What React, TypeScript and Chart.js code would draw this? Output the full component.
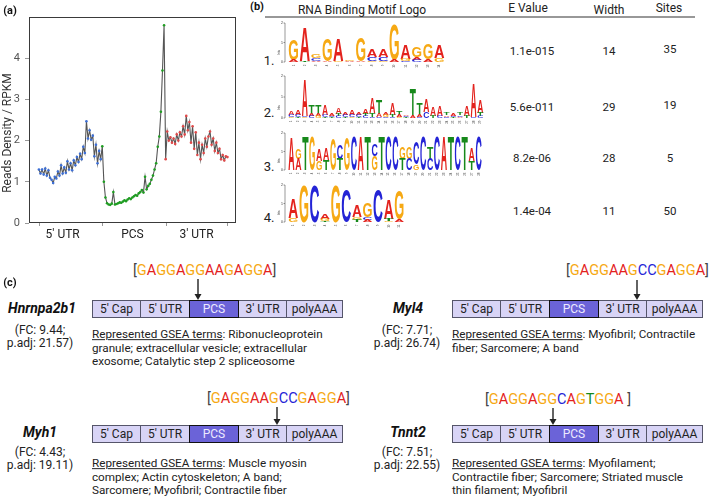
import React, { useEffect, useRef } from "react";
import { Chart, registerables } from "chart.js";
Chart.register(...registerables);

// ---------- Panel (a) data ----------
const blueVals = [
  1.3, 1.2, 1.3, 1.18, 1.32, 1.15, 1.28, 1.1, 1.05, 0.97,
  1.12, 1.08, 1.25, 1.15, 1.4, 1.2, 1.35, 1.22, 1.5, 1.3,
  1.45, 1.28, 1.52, 1.4, 1.6, 1.48, 1.68, 1.55, 1.85, 1.7,
  2.47, 2.05, 2.25, 2.02, 2.12, 1.62, 1.9, 1.45, 1.75, 1.55,
];
const greenVals = [
  1.86, 1.0, 0.62, 0.48, 0.45, 0.44, 0.47, 0.75, 0.45, 0.46,
  0.48, 0.5, 0.49, 0.52, 0.55, 0.53, 0.57, 0.6, 0.58, 0.62,
  0.65, 0.68, 0.66, 0.72, 0.75, 0.8, 0.74, 1.12, 0.82, 0.9,
  0.95, 1.05, 1.15, 1.3, 1.45, 1.85, 2.1, 2.7, 3.7, 4.8,
];
const redVals = [
  1.55, 2.22, 2.0, 2.08, 1.95, 2.05, 1.92, 2.15, 2.0, 2.2,
  2.1, 2.35, 2.15, 2.6, 2.25, 2.45, 1.95, 2.35, 1.8, 2.2,
  1.65, 1.95, 1.55, 1.9, 1.7, 2.05, 1.85, 2.1, 2.22, 1.9,
  2.05, 1.75, 1.95, 1.7, 1.8, 1.55, 1.65, 1.52, 1.62, 1.6,
];
const regionLabels = ["5' UTR", "PCS", "3' UTR"];
const regionLabelAt = [15, 59, 99.5];
const regionEdges = [0, 40, 80, 119];
const yTickValues = [0, 1, 2, 3, 4];

// ---------- Panel (b) data ----------
const motifNumbers = ["1.", "2.", "3.", "4."];
const motifEValues = ["1.1e-015", "5.6e-011", "8.2e-06", "1.4e-04"];
const motifWidths = ["14", "29", "28", "11"];
const motifSites = ["35", "19", "5", "50"];
// each column: letters from top to bottom with height in bits
const motif1 = [
  "G1.03 A.1", "A1.7 T.05", "G.2 C.15 A.05", "G1.13 A.05", "A1.13 G.05", "G.08 A.05", "G1.18 A.05",
  "A.4 C.2 G.05", "A.4 C.2 G.05", "G1.75 A.1", "A.72 G.1 C.05", "G.5 A.15 C.1", "G.77 A.15", "A.62 G.2",
];
const motif2 = [
  "A.2 C.1 G.05", "A.24 C.1 T.05", "A1.7 C.05 G.05", "T.45 A.1 C.1", "T.45 A.1 G.1", "A.5 C.1 T.05",
  "A.1 C.05 T.05", "A.3 T.1 C.1", "A.1 C.1 T.05", "A.25 C.1 G.05", "A.1 C.1 T.05", "A.25 T.1 C.1",
  "A.7 T.2 C.05", "T.65 A.15 C.05", "A.1 G.1 C.05", "A.55 T.1 C.05", "T.2 A.1 G.05", "A.08 C.05 T.05",
  "T1.25 A.1", "T.55 A.1 C.05", "A.6 C.3", "A.45 T.1", "A.5 C.1", "T.1 A.08 C.05", "A.1 C.05 T.05",
  "T.1 C.08 A.05", "A.5 T.1", "A1.6 C.05", "A.6 T.15 C.1",
];
const motif3 = [
  "A1.75", "G.55 A.6", "T1.8", "G1.8", "A.65 G.5", "A.65 T.55", "G1.65", "C.75 T.6", "G1.75", "C1.8",
  "A1.8", "T1.8", "C.65 G.75", "T1.8", "C1.8", "C1.8", "G.65 T.6", "G.65 C.6", "C1.2 G.3", "C1.8",
  "T.6 C.6", "C1.8", "A1.8", "T1.8", "C1.8", "T1.8", "A.7 T.5", "C1.8",
];
const motif4 = [
  "A1.0 G.2", "G1.9", "C1.9", "A.3 G.1 T.05", "G1.9", "C1.75", "A.6 G.15 T.1", "G.75 C.15 A.1",
  "C1.75", "A1.05 T.1 G.05", "G1.5 A.15",
];

// ---------- Panel (c) data ----------
const geneNames = ["Hnrnpa2b1", "Myl4", "Myh1", "Tnnt2"];
const geneFC = ["9.44", "7.71", "4.43", "7.51"];
const genePadj = ["21.57", "26.74", "19.11", "22.55"];
const geneMotifSeqs = ["GAGGAGGAAGAGGA", "GAGGAAGCCGAGGA", "GAGGAAGCCGAGGA", "GAGGAGGCAGTGGA "];
const geneTerms = [
  ["Ribonucleoprotein", "granule; extracellular vesicle; extracellular", "exosome; Catalytic step 2 spliceosome"],
  ["Myofibril; Contractile", "fiber; Sarcomere; A band"],
  ["Muscle myosin", "complex; Actin cytoskeleton; A band;", "Sarcomere; Myofibril; Contractile fiber"],
  ["Myofilament;", "Contractile fiber; Sarcomere; Striated muscle", "thin filament; Myofibril"],
];
const transcriptParts = ["5' Cap", "5' UTR", "PCS", "3' UTR", "polyAAA"];

const NUC: Record<string, string> = { A: "#e3221d", C: "#2424d6", G: "#f6a914", T: "#17891b" };

function T(props: any) {
  const { x, y, a = "middle", size = 12, w = 400, it = false, color = "#222", children, style } = props;
  const tx = a === "middle" ? "-50%" : a === "end" ? "-100%" : "0";
  return (
    <div
      style={{
        position: "absolute", left: x, top: y, transform: `translate(${tx}, -50%)`,
        fontSize: size, fontWeight: w, fontStyle: it ? "italic" : "normal", color,
        whiteSpace: "pre", lineHeight: 1, fontFamily: "Roboto, sans-serif", ...style,
      }}
    >
      {children}
    </div>
  );
}

function parseCol(s: string): [string, number][] {
  return s.split(" ").map((p) => [p[0], parseFloat(p.slice(1))] as [string, number]);
}

function Logo({ cols, x0, base, colW, ppb, k }: any) {
  const els: any[] = [];
  cols.forEach((cs: string, j: number) => {
    const col = parseCol(cs);
    const total = col.reduce((s, [, h]) => s + h, 0) * ppb;
    let y = base - total;
    col.forEach(([l, h], m) => {
      const hp = h * ppb;
      y += hp;
      els.push(
        <text key={`${k}-${j}-${m}`} x={0} y={0}
          transform={`translate(${x0 + j * colW + 0.3},${y}) scale(1,${hp / 6.9})`}
          fontSize={10} fontFamily="'Liberation Sans', Arial, sans-serif" fontWeight="bold"
          fill={NUC[l]} textLength={colW - 0.6} lengthAdjust="spacingAndGlyphs">{l}</text>
      );
    });
    els.push(
      <text key={`${k}-n${j}`} x={0} y={0}
        transform={`translate(${x0 + j * colW + colW / 2 + 1},${base + 2.5}) rotate(-90)`}
        fontSize={3} textAnchor="end" fill="#444" fontFamily="'Liberation Sans', Arial">{j + 1}</text>
    );
  });
  const ax = x0 - 3;
  els.push(<line key={`${k}-ax`} x1={ax} y1={base} x2={ax} y2={base - 2 * ppb} stroke="#333" strokeWidth={0.5} />);
  [0, 1, 2].forEach((b) => {
    els.push(<line key={`${k}-t${b}`} x1={ax - 1.5} y1={base - b * ppb} x2={ax} y2={base - b * ppb} stroke="#333" strokeWidth={0.5} />);
    els.push(<text key={`${k}-tl${b}`} x={ax - 2} y={base - b * ppb + 1.2} fontSize={3.5} textAnchor="end" fill="#333" fontFamily="'Liberation Sans', Arial">{b}</text>);
  });
  els.push(
    <text key={`${k}-bits`} x={0} y={0} transform={`translate(${ax - 5},${base - ppb * 0.5}) rotate(-90)`}
      fontSize={3} textAnchor="middle" fill="#333" fontFamily="'Liberation Sans', Arial">bits</text>
  );
  return <g>{els}</g>;
}

function GeneBox({ x, y }: any) {
  const widths = [48, 49, 49, 48, 56];
  let cx = x;
  return (
    <>
      {transcriptParts.map((p, i) => {
        const left = cx;
        cx += widths[i];
        const pcs = i === 2;
        return (
          <div key={p} style={{
            position: "absolute", left, top: y, width: widths[i] + 1, height: 18, boxSizing: "border-box",
            border: pcs ? "1.5px solid #111" : "1px solid #55556a", background: pcs ? "#6b63d8" : "#d8d4f6",
            zIndex: pcs ? 2 : 1, display: "flex", alignItems: "center", justifyContent: "center",
            fontSize: 12, color: pcs ? "#eceaff" : "#222", fontFamily: "Roboto, sans-serif", lineHeight: 1,
          }}>{p}</div>
        );
      })}
    </>
  );
}

function Seq({ x, y, seq }: any) {
  return (
    <T x={x} y={y} a="start" size={14.5} color="#444">
      [{seq.split("").map((c: string, i: number) => (c === " " ? " " : <span key={i} style={{ color: NUC[c] }}>{c}</span>))}]
    </T>
  );
}

function Arrow({ x, y1, y2 }: any) {
  return (
    <g>
      <line x1={x} y1={y1} x2={x} y2={y2 - 5} stroke="#222" strokeWidth={1.4} />
      <polygon points={`${x - 3.5},${y2 - 6} ${x + 3.5},${y2 - 6} ${x},${y2}`} fill="#222" />
    </g>
  );
}

const slots = [
  { nx: 42, ny: 308, bx: 92, by: 300, sx: 133, sy: 271, ax: 198, ay1: 279, ay2: 300, fx: 40, fy: 330, gy: 335 },
  { nx: 408, ny: 308, bx: 452, by: 300, sx: 566, sy: 271, ax: 637, ay1: 280, ay2: 300, fx: 407, fy: 330, gy: 335 },
  { nx: 40, ny: 432, bx: 92, by: 425, sx: 207, sy: 399, ax: 277, ay1: 407, ay2: 425, fx: 40, fy: 452, gy: 464 },
  { nx: 408, ny: 432, bx: 452, by: 425, sx: 485, sy: 400, ax: 553, ay1: 408, ay2: 425, fx: 407, fy: 452, gy: 464 },
];

export default function App() {
  const ref = useRef<HTMLCanvasElement>(null);
  useEffect(() => {
    const all = [...blueVals, ...greenVals, ...redVals];
    const nb = blueVals.length;
    const ng = greenVals.length;
    const framePlugin = {
      id: "frame",
      afterDraw(chart: any) {
        const { ctx, chartArea: a, scales } = chart;
        ctx.save();
        ctx.strokeStyle = "#3a3a3a";
        ctx.lineWidth = 1;
        ctx.strokeRect(a.left + 0.5, a.top + 0.5, a.right - a.left - 1, a.bottom - a.top - 1);
        ctx.strokeStyle = "#999";
        regionEdges.forEach((v) => {
          const px = Math.round(scales.x.getPixelForValue(v)) + 0.5;
          ctx.beginPath();
          ctx.moveTo(px, a.bottom);
          ctx.lineTo(px, a.bottom + 3);
          ctx.stroke();
        });
        ctx.restore();
      },
    };
    const chart = new Chart(ref.current!, {
      type: "line",
      data: {
        datasets: [
          {
            data: all.map((v, i) => ({ x: i, y: v })),
            borderColor: "#555",
            borderWidth: 1.1,
            pointRadius: 1.3,
            pointBorderWidth: 0,
            pointBackgroundColor: (c: any) =>
              c.dataIndex < nb ? "#3d6fd6" : c.dataIndex < nb + ng ? "#1f9e22" : "#e04a4a",
            tension: 0,
          },
        ],
      },
      options: {
        animation: false,
        responsive: false,
        devicePixelRatio: 1,
        layout: { padding: { top: 17, right: 1, left: 0, bottom: 0 } },
        plugins: { legend: { display: false }, tooltip: { enabled: false } },
        scales: {
          x: {
            type: "linear",
            min: -6.25,
            max: 124.4,
            afterBuildTicks: (s: any) => { s.ticks = regionLabelAt.map((v) => ({ value: v })); },
            afterFit: (s: any) => { s.height = 27; },
            grid: { display: false, drawTicks: false },
            border: { display: false },
            ticks: {
              autoSkip: false, maxRotation: 0, padding: 5, color: "#222",
              font: { family: "Roboto", size: 12 },
              callback: (_v: any, i: number) => regionLabels[i],
            },
          },
          y: {
            min: 0,
            max: 5,
            afterBuildTicks: (s: any) => { s.ticks = yTickValues.map((v) => ({ value: v })); },
            afterFit: (s: any) => { s.width = 29; },
            grid: { display: true, drawOnChartArea: false, drawTicks: true, tickLength: 4, color: "#999" },
            border: { display: false },
            ticks: { padding: 5, color: "#555", font: { family: "Roboto", size: 11 } },
          },
        },
      },
      plugins: [framePlugin],
    } as any);
    return () => chart.destroy();
  }, []);

  const logoRows = [
    { cols: motif1, base: 62, colW: 11.2, ppb: 19.5, ny: 60 },
    { cols: motif2, base: 118, colW: 6.75, ppb: 21, ny: 112 },
    { cols: motif3, base: 170, colW: 6.93, ppb: 18.5, ny: 166 },
    { cols: motif4, base: 222, colW: 10.6, ppb: 18.5, ny: 217 },
  ];
  const valY = [
    [52, 52, 50],
    [108, 108, 106],
    [159, 159, 159],
    [212, 212, 212],
  ];

  return (
    <div style={{ position: "fixed", left: 0, top: 0, width: 709, height: 498, background: "#fff", overflow: "hidden", fontFamily: "Roboto, sans-serif" }}>
      <canvas ref={ref} width={240} height={250} style={{ position: "absolute", left: 0, top: 0, width: 240, height: 250 }} />
      <div style={{ position: "absolute", left: 7, top: 133, transform: "translate(-50%,-50%) rotate(-90deg)", fontSize: 12, whiteSpace: "nowrap", color: "#333", lineHeight: 1, fontFamily: "Roboto, sans-serif" }}>
        Reads Density / RPKM
      </div>

      <T x={10} y={10} size={11} w={700} color="#111">(a)</T>
      <T x={257} y={6} size={11} w={700} color="#111">(b)</T>
      <T x={10} y={282} size={11} w={700} color="#111">(c)</T>

      {/* panel b header */}
      <T x={362} y={10} size={12} color="#222">RNA Binding Motif Logo</T>
      <T x={528} y={8} size={12} color="#222">E Value</T>
      <T x={609} y={10} size={12} color="#222">Width</T>
      <T x={669} y={8} size={12} color="#222">Sites</T>

      {motifNumbers.map((n, i) => (
        <React.Fragment key={n}>
          <T x={269} y={logoRows[i].ny} size={13} color="#222">{n}</T>
          <T x={532} y={valY[i][0]} size={11.5} color="#222">{motifEValues[i]}</T>
          <T x={609} y={valY[i][1]} size={11.5} color="#222">{motifWidths[i]}</T>
          <T x={670} y={valY[i][2]} size={11.5} color="#222">{motifSites[i]}</T>
        </React.Fragment>
      ))}

      <svg width={709} height={498} style={{ position: "absolute", left: 0, top: 0, zIndex: 3, pointerEvents: "none" }}>
        <line x1={265} y1={17} x2={695} y2={17} stroke="#333" strokeWidth={1.2} />
        {logoRows.map((r, i) => (
          <Logo key={i} k={i} cols={r.cols} x0={288} base={r.base} colW={r.colW} ppb={r.ppb} />
        ))}
        {slots.map((s, i) => (
          <Arrow key={i} x={s.ax} y1={s.ay1} y2={s.ay2} />
        ))}
      </svg>

      {slots.map((s, i) => (
        <React.Fragment key={geneNames[i]}>
          <T x={s.nx} y={s.ny} size={14} w={700} it color="#111">{geneNames[i]}</T>
          <T x={s.fx} y={s.fy} size={12} color="#222">{`(FC: ${geneFC[i]};`}</T>
          <T x={s.fx} y={s.fy + 13} size={12} color="#222">{`p.adj: ${genePadj[i]})`}</T>
          <Seq x={s.sx} y={s.sy} seq={geneMotifSeqs[i]} />
          <GeneBox x={s.bx} y={s.by} />
          {geneTerms[i].map((line, j) => (
            <T key={j} x={s.bx} y={s.gy + j * 13.5} a="start" size={11.7} color="#222">
              {j === 0 ? (
                <>
                  <span style={{ textDecoration: "underline" }}>Represented GSEA terms</span>: {line}
                </>
              ) : line}
            </T>
          ))}
        </React.Fragment>
      ))}
    </div>
  );
}
